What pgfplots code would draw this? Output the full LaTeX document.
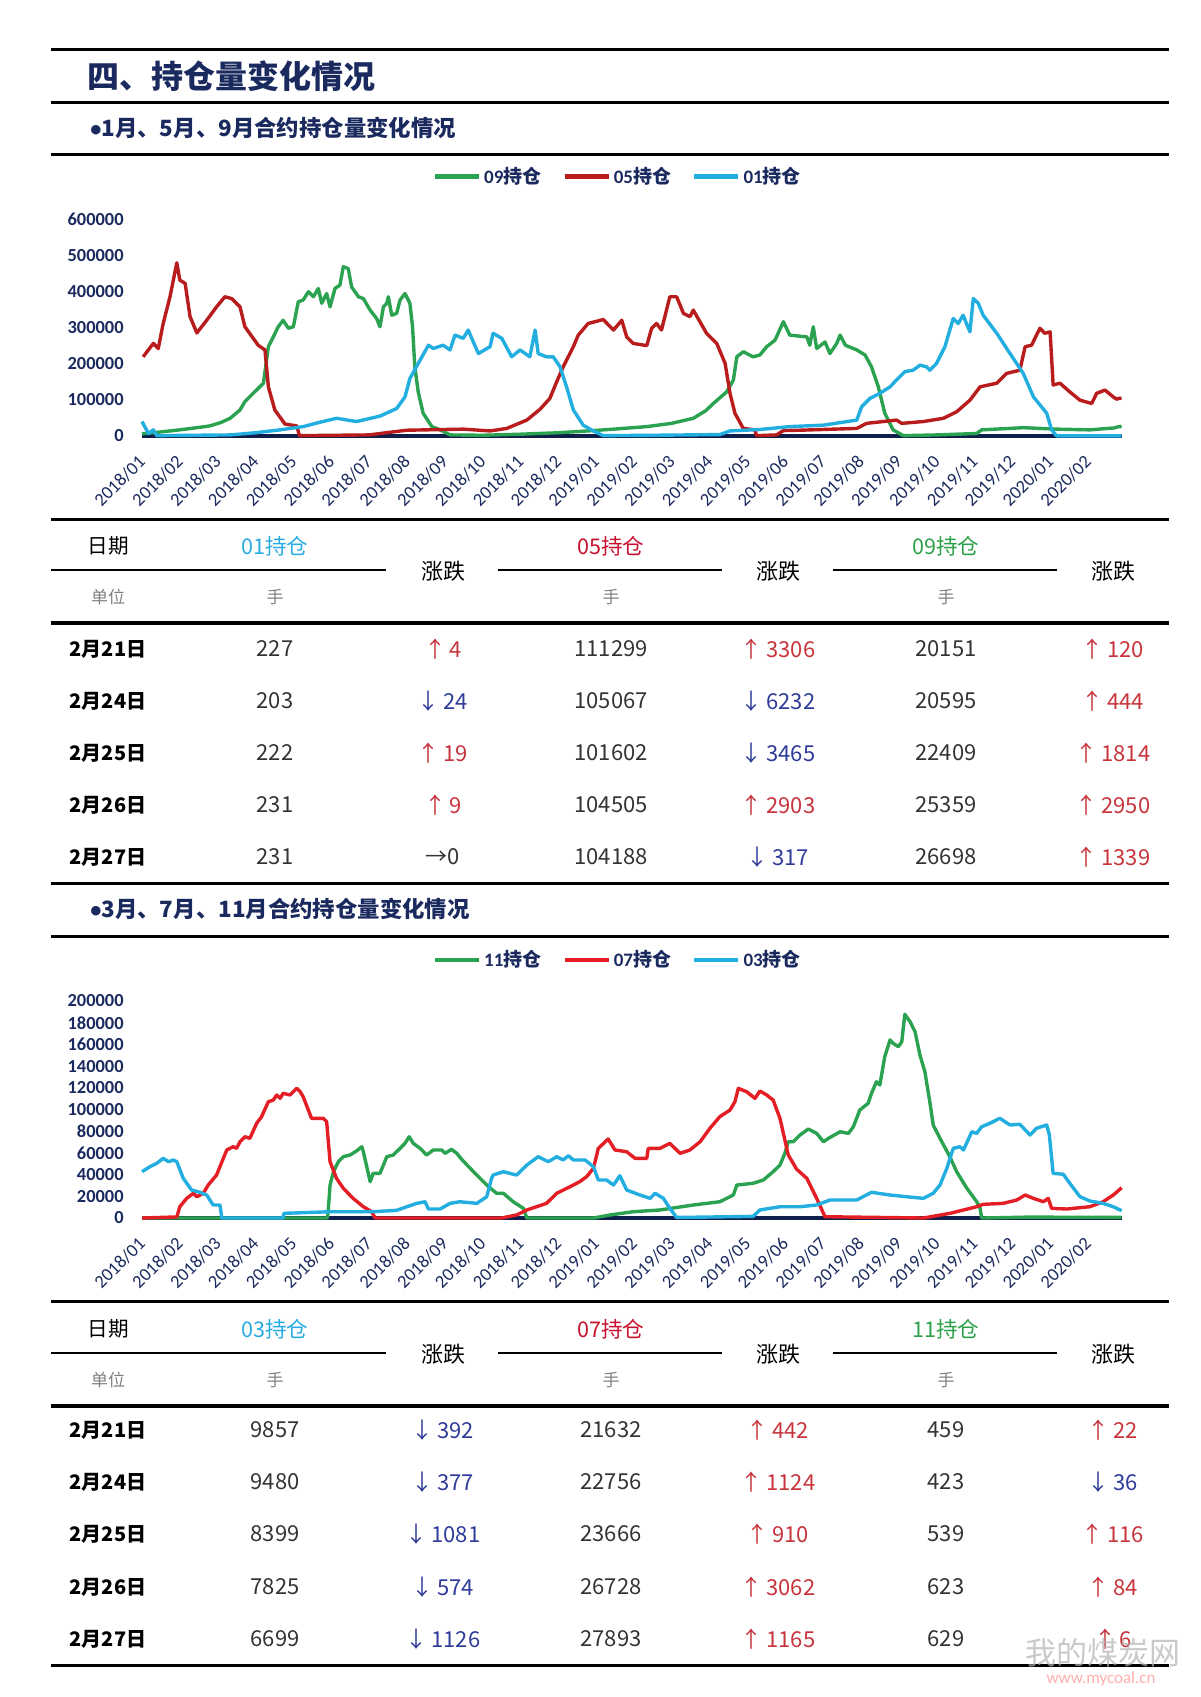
\documentclass[border=0pt]{standalone}
\usepackage{pgfplots}
\pgfplotsset{compat=1.18}
\usepackage{fontspec}
\setmainfont{Carlito}
\newfontfamily\cjk{Noto Sans CJK SC}
\definecolor{navy}{HTML}{1B2A5E}
\definecolor{gline}{HTML}{2AA24F}
\definecolor{rdark}{HTML}{B81C1C}
\definecolor{rbright}{HTML}{E31E24}
\definecolor{bline}{HTML}{23AEE0}
\definecolor{base}{HTML}{0F1E4A}
\definecolor{upred}{HTML}{C8343C}
\definecolor{downblue}{HTML}{2E3B99}
\definecolor{txt}{HTML}{333333}
\definecolor{hblue}{HTML}{29ABE2}
\definecolor{hred}{HTML}{C8102E}
\definecolor{hgreen}{HTML}{2CA048}

\newcommand{\up}[1]{\textcolor{upred}{↑\,#1}}
\newcommand{\dn}[1]{\textcolor{downblue}{↓\,#1}}
\newcommand{\fs}[1]{\fontsize{#1}{#1}\selectfont}

% y, date, v1, c1, v2, c2, v3, c3
\newcommand{\trow}[8]{%
  \node[font=\cjk\bfseries\fs{10}] at (108,#1) {#2};
  \node[font=\cjk\fs{11}, text=txt] at (275,#1) {#3};
  \node[font=\cjk\fs{11}, text=txt] at (443,#1) {#4};
  \node[font=\cjk\fs{11}, text=txt] at (611,#1) {#5};
  \node[font=\cjk\fs{11}, text=txt] at (778,#1) {#6};
  \node[font=\cjk\fs{11}, text=txt] at (946,#1) {#7};
  \node[font=\cjk\fs{11}, text=txt] at (1113,#1) {#8};
}
% header: y0, name1, col1, name2, col2, name3, col3
\newcommand{\thead}[7]{%
  \node[font=\cjk\fs{10.3}] at (108,#1) {日期};
  \node[font=\cjk\fs{10.8}, text=#3] at (275,#1) {#2};
  \node[font=\cjk\fs{10.8}, text=#5] at (611,#1) {#4};
  \node[font=\cjk\fs{10.8}, text=#7] at (946,#1) {#6};
  \node[font=\cjk\fs{11}] at (443,#1+25) {涨跌};
  \node[font=\cjk\fs{11}] at (778,#1+25) {涨跌};
  \node[font=\cjk\fs{11}] at (1113,#1+25) {涨跌};
  \draw[line width=1.2pt] (51,#1+24) -- (386,#1+24);
  \draw[line width=1.2pt] (498,#1+24) -- (722,#1+24);
  \draw[line width=1.2pt] (833,#1+24) -- (1057,#1+24);
  \node[font=\cjk\fs{8.5}, text=gray] at (108,#1+51) {单位};
  \node[font=\cjk\fs{8.5}, text=gray] at (275,#1+51) {手};
  \node[font=\cjk\fs{8.5}, text=gray] at (611,#1+51) {手};
  \node[font=\cjk\fs{8.5}, text=gray] at (946,#1+51) {手};
}

\pgfplotsset{mychart/.style={
  scale only axis, width=490pt, height=108.5pt, anchor=south west,
  xmin=0, xmax=25.9, clip=false, scaled y ticks=false,
  axis line style={draw=none}, major tick length=0pt,
  xtick={0,...,25},
  xticklabels={2018/01,2018/02,2018/03,2018/04,2018/05,2018/06,2018/07,2018/08,2018/09,2018/10,2018/11,2018/12,2019/01,2019/02,2019/03,2019/04,2019/05,2019/06,2019/07,2019/08,2019/09,2019/10,2019/11,2019/12,2020/01,2020/02},
  xticklabel style={font=\fs{9.2}, text=navy, rotate=45, anchor=east, inner sep=0pt, xshift=-7.8pt, yshift=-8pt},
  yticklabel style={font=\bfseries\fs{9.2}, text=navy, anchor=east, inner sep=0pt, xshift=-9pt},
  legend columns=3,
  legend style={draw=none, fill=none, font=\bfseries\fs{9.5}, text=navy, anchor=center,
    /tikz/every even column/.append style={column sep=9pt},
    nodes={inner sep=1.5pt}},
  legend image code/.code={\draw[#1, line width=2.2pt] (0pt,0pt) -- (22pt,0pt);},
  every axis plot/.append style={line width=1.7pt, line join=round},
}}

\begin{document}
\begin{tikzpicture}
\begin{scope}[x=0.5pt,y=-0.5pt]
\path[use as bounding box] (0,0) rectangle (1200,1697);
% header rules and titles
\draw[line width=1.5pt] (51,49) -- (1169,49);
\node[anchor=west, inner sep=0pt, font=\cjk\bfseries\fs{16}, text=navy] at (87,76) {四、持仓量变化情况};
\draw[line width=1.5pt] (51,102) -- (1169,102);
\node[anchor=west, inner sep=0pt, font=\cjk\bfseries\fs{11.2}, text=navy] at (90,128) {{\normalfont\bfseries •}1月、5月、9月合约持仓量变化情况};
\draw[line width=1.5pt] (51,154) -- (1169,154);
% table 1
\draw[line width=1.5pt] (51,519) -- (1169,519);
\thead{546}{01持仓}{hblue}{05持仓}{hred}{09持仓}{hgreen}
\draw[line width=1.6pt] (51,623) -- (1169,623);
\trow{649}{2月21日}{227}{\up{4}}{111299}{\up{3306}}{20151}{\up{120}}
\trow{701}{2月24日}{203}{\dn{24}}{105067}{\dn{6232}}{20595}{\up{444}}
\trow{753}{2月25日}{222}{\up{19}}{101602}{\dn{3465}}{22409}{\up{1814}}
\trow{805}{2月26日}{231}{\up{9}}{104505}{\up{2903}}{25359}{\up{2950}}
\trow{857}{2月27日}{231}{→0}{104188}{\dn{317}}{26698}{\up{1339}}
\draw[line width=1.5pt] (51,883) -- (1169,883);
% section 2
\node[anchor=west, inner sep=0pt, font=\cjk\bfseries\fs{11.2}, text=navy] at (90,909) {{\normalfont\bfseries •}3月、7月、11月合约持仓量变化情况};
\draw[line width=1.5pt] (51,936) -- (1169,936);
\draw[line width=1.5pt] (51,1301) -- (1169,1301);
\thead{1329}{03持仓}{hblue}{07持仓}{hred}{11持仓}{hgreen}
\draw[line width=1.6pt] (51,1406) -- (1169,1406);
\trow{1430}{2月21日}{9857}{\dn{392}}{21632}{\up{442}}{459}{\up{22}}
\trow{1482}{2月24日}{9480}{\dn{377}}{22756}{\up{1124}}{423}{\dn{36}}
\trow{1534}{2月25日}{8399}{\dn{1081}}{23666}{\up{910}}{539}{\up{116}}
\trow{1587}{2月26日}{7825}{\dn{574}}{26728}{\up{3062}}{623}{\up{84}}
\trow{1639}{2月27日}{6699}{\dn{1126}}{27893}{\up{1165}}{629}{\up{6}}
\draw[line width=1.5pt] (51,1665) -- (1169,1665);
% watermark
\node[font=\cjk\fs{15.5}, text=gray!60, opacity=0.7] at (1103,1653) {我的煤炭网};
\node[font=\fs{8.5}, text=red!40, opacity=0.8] at (1101,1679) {www.mycoal.cn};
\end{scope}

% ---------- chart 1 ----------
\begin{axis}[mychart, at={(71pt,-218pt)},
  ymin=0, ymax=600000, ytick={0,100000,200000,300000,400000,500000,600000},
  yticklabels={0,100000,200000,300000,400000,500000,600000},
  legend style={at={(0.486,1.195)}}]
\addplot[base, line width=1.6pt, forget plot] coordinates {(0,0) (25.89,0)};
\addplot[gline] coordinates {(0,6000) (0.21,8000) (0.56,12000) (1.0,17000) (1.45,23000) (1.80,28000) (2.1,38000) (2.33,49000) (2.59,72000) (2.72,95000) (2.94,118000) (3.21,146000) (3.28,201000) (3.34,247000) (3.47,274000) (3.60,302000) (3.73,320000) (3.87,298000) (4.00,302000) (4.13,371000) (4.26,376000) (4.40,399000) (4.53,385000) (4.66,408000) (4.75,367000) (4.88,394000) (4.97,357000) (5.10,408000) (5.23,417000) (5.32,468000) (5.45,463000) (5.54,412000) (5.72,385000) (5.85,380000) (6.03,348000) (6.20,325000) (6.29,302000) (6.38,357000) (6.47,367000) (6.51,385000) (6.60,334000) (6.73,339000) (6.82,376000) (6.95,394000) (7.08,367000) (7.15,302000) (7.21,191000) (7.30,122000) (7.43,63000) (7.66,26000) (7.88,17000) (8.14,3000) (9,2000) (10,5000) (11,9000) (11.93,15000) (12.6,20000) (13.34,26000) (14.0,35000) (14.57,49000) (14.9,70000) (15.10,90000) (15.45,122000) (15.63,155000) (15.72,219000) (15.89,233000) (16.15,219000) (16.33,224000) (16.51,247000) (16.73,265000) (16.95,316000) (17.12,279000) (17.57,274000) (17.65,251000) (17.74,302000) (17.83,242000) (18.05,260000) (18.18,228000) (18.36,256000) (18.45,279000) (18.59,251000) (18.89,238000) (19.11,224000) (19.28,191000) (19.46,136000) (19.63,63000) (19.85,17000) (20.12,1000) (21,3000) (22.06,7000) (22.19,17000) (23.29,23000) (24.17,19000) (25.05,17000) (25.7,22409) (25.79,25359) (25.89,26698)};
\addplot[rdark] coordinates {(0.03,219000) (0.30,256000) (0.43,242000) (0.56,311000) (0.74,385000) (0.92,479000) (1.00,431000) (1.14,422000) (1.27,330000) (1.45,285000) (1.71,320000) (1.97,357000) (2.19,385000) (2.37,380000) (2.59,357000) (2.72,302000) (2.94,270000) (3.07,251000) (3.25,238000) (3.34,136000) (3.51,72000) (3.78,33000) (4.09,28000) (4.16,1000) (6.0,3000) (6.38,8000) (7.0,16000) (8.49,19000) (9.20,14000) (9.64,21000) (10.17,44000) (10.52,74000) (10.78,104000) (10.96,150000) (11.13,191000) (11.40,247000) (11.53,279000) (11.79,311000) (12.19,322000) (12.46,293000) (12.68,320000) (12.81,274000) (12.98,256000) (13.34,250000) (13.47,298000) (13.60,311000) (13.73,293000) (13.95,385000) (14.13,385000) (14.31,339000) (14.48,330000) (14.57,348000) (14.92,284000) (15.19,256000) (15.41,201000) (15.54,118000) (15.67,63000) (15.89,21000) (16.20,17000) (16.24,1000) (16.77,3000) (16.95,15000) (17.39,16000) (18.89,21000) (19.15,35000) (19.94,44000) (20.08,35000) (20.65,40000) (21.18,49000) (21.53,67000) (21.88,99000) (22.15,136000) (22.59,146000) (22.85,173000) (23.20,182000) (23.34,247000) (23.51,251000) (23.73,298000) (23.86,284000) (24.00,288000) (24.08,141000) (24.26,146000) (24.52,122000) (24.79,99000) (25.10,90000) (25.23,118000) (25.45,127000) (25.67,108000) (25.76,101602) (25.82,104505) (25.89,104188)};
\addplot[bline] coordinates {(0,40000) (0.17,7000) (0.30,17000) (0.39,1000) (2.33,3000) (3.0,9000) (3.65,17000) (4.26,26000) (4.7,38000) (5.14,49000) (5.67,40000) (6.29,55000) (6.73,76000) (6.95,108000) (7.08,159000) (7.35,210000) (7.57,251000) (7.70,242000) (7.96,251000) (8.14,238000) (8.27,279000) (8.49,270000) (8.62,293000) (8.89,228000) (9.20,247000) (9.28,284000) (9.51,270000) (9.77,219000) (9.99,238000) (10.25,219000) (10.39,293000) (10.47,228000) (10.69,219000) (10.87,219000) (11.05,191000) (11.22,136000) (11.40,72000) (11.66,30000) (11.93,14000) (12.19,1000) (13.5,2000) (15.27,4000) (15.54,14000) (16.33,18000) (17.12,26000) (18.01,30000) (18.89,44000) (19.02,81000) (19.24,104000) (19.50,118000) (19.77,136000) (19.94,155000) (20.16,178000) (20.38,182000) (20.56,196000) (20.74,191000) (20.82,182000) (21.0,201000) (21.22,247000) (21.44,325000) (21.57,311000) (21.70,334000) (21.88,288000) (21.97,380000) (22.10,367000) (22.23,334000) (22.59,284000) (22.94,228000) (23.29,173000) (23.56,108000) (23.91,63000) (24.04,17000) (24.17,500) (25.89,231)};
\legend{09{\cjk 持仓},05{\cjk 持仓},01{\cjk 持仓}}
\end{axis}

% ---------- chart 2 ----------
\begin{axis}[mychart, at={(71pt,-609pt)},
  ymin=0, ymax=200000, ytick={0,20000,40000,60000,80000,100000,120000,140000,160000,180000,200000},
  yticklabels={0,20000,40000,60000,80000,100000,120000,140000,160000,180000,200000},
  legend style={at={(0.486,1.19)}}]
\addplot[base, line width=1.6pt, forget plot] coordinates {(0,0) (25.89,0)};
\addplot[gline] coordinates {(0,0) (4.90,0) (4.92,5800) (4.97,30400) (5.06,42700) (5.19,51900) (5.32,56500) (5.50,58100) (5.67,61800) (5.81,65700) (5.85,61100) (6.03,33500) (6.11,41200) (6.29,41200) (6.47,56500) (6.64,58100) (6.82,64200) (6.95,68800) (7.06,74900) (7.17,68800) (7.35,64200) (7.52,58100) (7.70,62700) (7.92,62700) (8.01,59600) (8.18,63300) (8.32,59600) (8.45,54000) (8.76,42700) (9.11,30400) (9.37,22800) (9.55,22800) (9.81,15000) (10.08,8900) (10.17,0) (11.93,0) (12.37,2800) (12.98,5800) (13.69,7400) (14.57,12000) (15.27,15000) (15.63,21200) (15.72,30400) (16.15,32000) (16.42,35000) (16.68,42700) (16.86,48800) (16.99,59600) (17.08,70300) (17.21,70300) (17.39,76500) (17.61,82000) (17.83,78000) (18.01,70300) (18.14,73400) (18.45,79500) (18.67,78000) (18.80,84100) (18.97,99500) (19.19,105700) (19.28,114900) (19.41,125600) (19.50,122600) (19.63,148700) (19.77,164100) (19.85,161000) (19.99,157900) (20.08,162500) (20.16,187700) (20.30,180900) (20.43,171700) (20.56,150200) (20.69,134800) (20.82,107200) (20.91,85700) (21.09,73400) (21.35,56500) (21.53,42700) (21.80,27400) (22.06,15000) (22.15,8900) (22.19,0) (23.4,800) (25.89,629)};
\addplot[rbright] coordinates {(0,0) (0.92,1000) (1.0,10400) (1.18,18100) (1.36,22800) (1.45,19600) (1.62,22800) (1.75,30400) (1.97,39600) (2.15,55000) (2.24,62700) (2.41,65700) (2.50,64200) (2.59,70300) (2.72,74900) (2.85,73400) (3.03,87300) (3.16,93400) (3.34,107200) (3.47,108700) (3.56,113400) (3.65,110300) (3.73,114900) (3.91,113400) (4.09,119500) (4.18,116400) (4.26,111800) (4.48,91900) (4.79,91900) (4.88,88800) (4.97,51900) (5.14,36600) (5.32,27400) (5.58,18100) (5.85,10400) (6.07,5800) (6.16,0) (9.5,0) (9.90,2800) (10.17,7400) (10.69,13500) (10.96,22800) (11.31,28800) (11.57,33500) (11.75,38100) (11.93,45800) (12.06,64200) (12.32,72800) (12.50,62700) (12.81,61100) (13.03,55000) (13.34,55000) (13.38,64200) (13.69,64200) (13.95,68800) (14.22,59600) (14.48,62700) (14.75,70300) (15.01,82700) (15.27,93400) (15.54,99500) (15.67,107200) (15.76,119500) (15.98,116400) (16.20,110300) (16.33,117000) (16.51,113400) (16.68,108700) (16.86,91900) (17.08,58100) (17.3,45000) (17.57,36600) (17.83,18100) (18.05,1200) (20.65,0) (21.35,4300) (22.06,10400) (22.23,12600) (22.76,13500) (23.12,16600) (23.34,21200) (23.56,18100) (23.82,15000) (23.95,18100) (24.04,8900) (24.44,8300) (25.05,10400) (25.40,15000) (25.67,21200) (25.89,27893)};
\addplot[bline] coordinates {(0,42700) (0.21,47300) (0.39,50400) (0.56,55000) (0.70,51900) (0.83,53500) (0.92,51900) (1.09,36600) (1.31,25800) (1.53,23700) (1.71,21200) (1.88,12000) (2.06,12000) (2.11,0) (3.73,0) (3.75,4300) (4.97,5800) (6.11,5800) (6.73,7100) (7.0,10400) (7.26,13500) (7.48,15000) (7.57,8300) (7.88,8300) (8.14,13500) (8.40,15000) (8.85,13500) (9.11,19600) (9.24,36600) (9.28,39600) (9.55,42700) (9.90,39600) (10.17,48800) (10.47,56500) (10.74,51900) (10.96,56500) (11.13,53500) (11.27,57400) (11.40,53500) (11.71,53500) (11.93,47300) (12.06,35000) (12.28,35000) (12.46,30400) (12.63,39000) (12.81,25800) (13.16,21200) (13.43,18100) (13.56,22800) (13.78,18100) (13.95,8900) (14.13,500) (16.15,1500) (16.33,7400) (16.86,10400) (17.39,10400) (17.83,12000) (18.18,16600) (18.89,16600) (19.28,23700) (19.77,21200) (20.21,19600) (20.65,18100) (20.91,22800) (21.09,30400) (21.27,45800) (21.44,64200) (21.62,65700) (21.71,62700) (21.93,79500) (22.06,78000) (22.19,84100) (22.41,87300) (22.67,91900) (22.94,85700) (23.20,86400) (23.47,76500) (23.64,82700) (23.91,85700) (23.98,76500) (24.08,41200) (24.35,40300) (24.52,32000) (24.79,19600) (25.05,15700) (25.40,13500) (25.67,10400) (25.89,6699)};
\legend{11{\cjk 持仓},07{\cjk 持仓},03{\cjk 持仓}}
\end{axis}
\end{tikzpicture}
\end{document}
